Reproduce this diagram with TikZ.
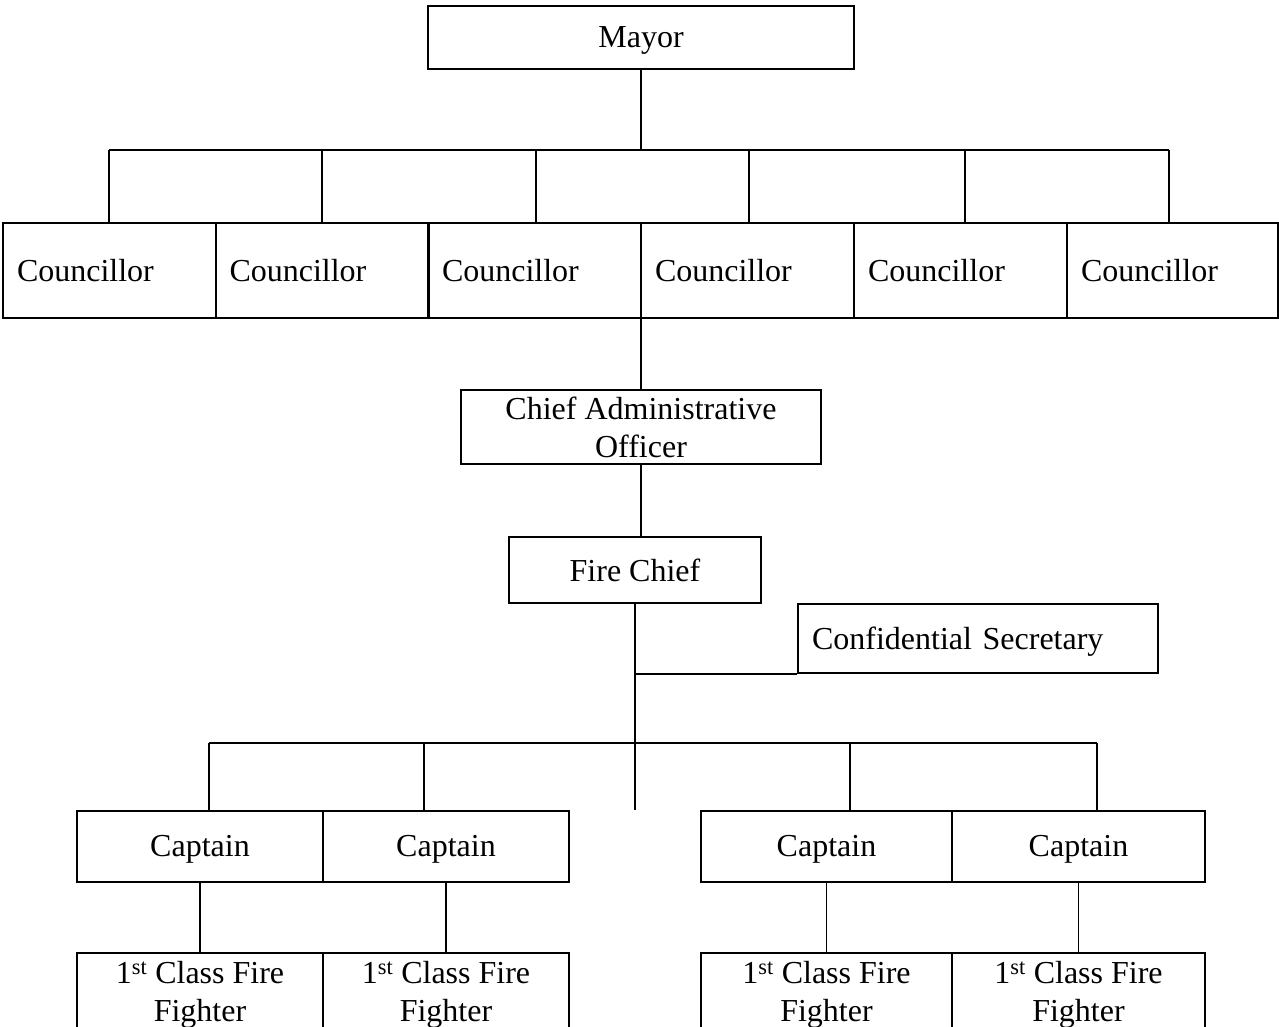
\documentclass[tikz,border=0pt]{standalone}
\usepackage{fontspec}
\setmainfont{Liberation Serif}
\begin{document}
\begin{tikzpicture}[x=1pt,y=-1pt,
  box/.style={draw, line width=2pt, inner sep=0pt, text depth=0pt, font=\fontsize{32}{38}\selectfont, align=center},
  lbox/.style={box, inner xsep=14pt, align=left},
  conn/.style={line width=1.4pt}]
\useasboundingbox (0,0) rectangle (1279,1027);
% nodes
\node[box, minimum width=426, minimum height=63] (mayor) at (641,37.5) {Mayor};
\node[lbox, text width=185, minimum height=95] (c1) at (109.5,270.5) {Councillor};
\node[lbox, text width=185, minimum height=95] (c2) at (322,270.5) {Councillor};
\node[lbox, text width=185, minimum height=95] (c3) at (534.5,270.5) {Councillor};
\node[lbox, text width=185, minimum height=95] (c4) at (747.5,270.5) {Councillor};
\node[lbox, text width=185, minimum height=95] (c5) at (960.5,270.5) {Councillor};
\node[lbox, text width=183, minimum height=95] (c6) at (1172.5,270.5) {Councillor};
\node[box, minimum width=360, minimum height=74] (cao) at (641,427) {Chief Administrative\\Officer};
\node[box, minimum width=252, minimum height=66] (fc) at (635,570) {Fire Chief};
\node[lbox, text width=332, minimum height=69, anchor=west] (sec) at (797,638.5) {Confidential Secretary};
\node[box, minimum width=246, minimum height=71] (cap1) at (200,846) {Captain};
\node[box, minimum width=246, minimum height=71] (cap2) at (446,846) {Captain};
\node[box, minimum width=251, minimum height=71] (cap3) at (826.5,846) {Captain};
\node[box, minimum width=253, minimum height=71] (cap4) at (1078.5,846) {Captain};
\node[box, minimum width=246, minimum height=76] (ff1) at (200,991) {1\textsuperscript{st} Class Fire\\Fighter};
\node[box, minimum width=246, minimum height=76] (ff2) at (446,991) {1\textsuperscript{st} Class Fire\\Fighter};
\node[box, minimum width=251, minimum height=76] (ff3) at (826.5,991) {1\textsuperscript{st} Class Fire\\Fighter};
\node[box, minimum width=253, minimum height=76] (ff4) at (1078.5,991) {1\textsuperscript{st} Class Fire\\Fighter};
% councillor bus
\coordinate (mbus) at (641,150);
\coordinate (t1) at (109,150);
\coordinate (t2) at (322,150);
\coordinate (t3) at (536,150);
\coordinate (t4) at (749,150);
\coordinate (t5) at (965,150);
\coordinate (t6) at (1169,150);
\draw[conn] (mayor.south) -- (mbus);
\draw[conn] (t1) -- (t6);
\draw[conn] (t1) -- (t1 |- c1.north);
\draw[conn] (t2) -- (t2 |- c2.north);
\draw[conn] (t3) -- (t3 |- c3.north);
\draw[conn] (t4) -- (t4 |- c4.north);
\draw[conn] (t5) -- (t5 |- c5.north);
\draw[conn] (t6) -- (t6 |- c6.north);
% chain down
\draw[conn] (cao.north |- c4.south) -- (cao.north);
\draw[conn] (cao.south) -- (cao.south |- fc.north);
\coordinate (fcend) at (635,810);
\draw[conn] (fc.south) -- (fcend);
\draw[conn] (fc.south |- sec.south west) -- (sec.south west);
% captain bus
\coordinate (b1) at (209,743);
\coordinate (b2) at (424,743);
\coordinate (b4) at (850,743);
\coordinate (b5) at (1097,743);
\draw[conn] (b1) -- (b5);
\draw[conn] (b1) -- (b1 |- cap1.north);
\draw[conn] (b2) -- (b2 |- cap2.north);
\draw[conn] (b4) -- (b4 |- cap3.north);
\draw[conn] (b5) -- (b5 |- cap4.north);
% captains to fire fighters
\draw[conn] (cap1.south) -- (ff1.north);
\draw[conn] (cap2.south) -- (ff2.north);
\draw[conn] (cap3.south) -- (ff3.north);
\draw[conn] (cap4.south) -- (ff4.north);
\end{tikzpicture}
\end{document}
